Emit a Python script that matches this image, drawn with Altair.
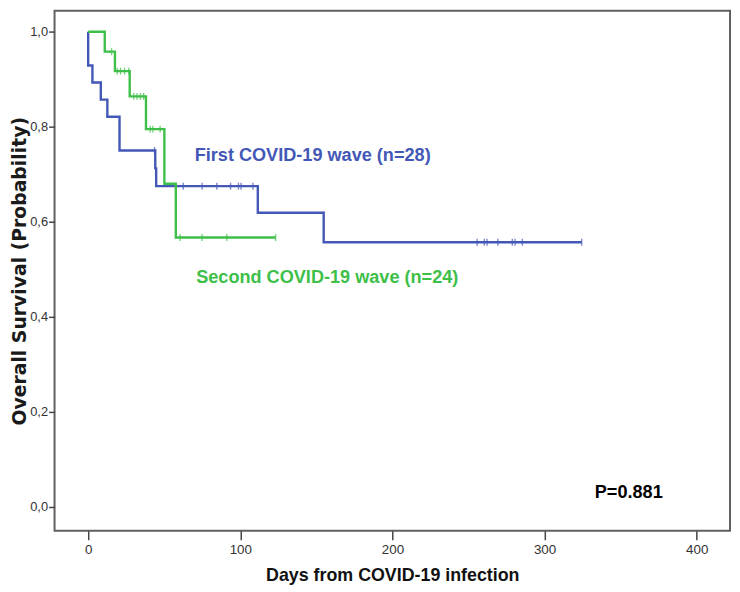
import altair as alt
import pandas as pd

# Kaplan-Meier step points (days, survival probability)
first_times = [0, 0, 2.8, 8.3, 12.6, 20.6, 44.1, 44.7, 111.5, 154.8, 324.4]
first_surv = [1.0, 0.929, 0.893, 0.857, 0.821, 0.75, 0.7125, 0.675, 0.619, 0.557, 0.557]

second_times = [0, 10.9, 17.6, 27.3, 38.0, 50.1, 57.6, 123.2]
second_surv = [1.0, 0.958, 0.917, 0.864, 0.795, 0.68, 0.567, 0.567]

# Censored observations
first_cens_t = [43.6, 62.5, 74.9, 84.6, 93.6, 98.8, 100.5, 108.3,
                255.7, 260.4, 262.2, 269.3, 278.8, 280.6, 285.4, 324.4]
first_cens_s = [0.75, 0.675, 0.675, 0.675, 0.675, 0.675, 0.675, 0.675,
                0.557, 0.557, 0.557, 0.557, 0.557, 0.557, 0.557, 0.557]
second_cens_t = [15.4, 19.1, 21.3, 23.9, 26.7, 29.9, 32.1, 34.3, 36.5,
                 40.8, 42.5, 47.3, 60.4, 74.8, 91.1, 123.2]
second_cens_s = [0.958, 0.917, 0.917, 0.917, 0.917, 0.864, 0.864, 0.864, 0.864,
                 0.795, 0.795, 0.795, 0.567, 0.567, 0.567, 0.567]

labels = ["First COVID-19 wave (n=28)", "Second COVID-19 wave (n=24)", "P=0.881"]
label_x = [70.0, 71.0, 333.0]
label_y = [0.7375, 0.482, 0.03]
label_colors = ["#4357b7", "#3dbf49", "#000000"]

x_ticks = [0, 100, 200, 300, 400]
y_ticks = [0.0, 0.2, 0.4, 0.6, 0.8, 1.0]

BLUE = "#4357b7"
GREEN = "#3dbf49"
FONT = "Liberation Sans"

xdom = [-22.1, 421.9]
ydom = [-0.05, 1.044]

xs = alt.Scale(domain=xdom, nice=False, zero=False)
ys = alt.Scale(domain=ydom, nice=False, zero=False)

x_axis = alt.Axis(values=x_ticks, title="Days from COVID-19 infection", grid=False,
                  domain=False, tickSize=9, tickColor="#444", tickWidth=1.5,
                  labelFont=FONT, labelFontSize=13.5, labelColor="#333", labelPadding=3,
                  titleFont=FONT, titleFontSize=18, titleFontWeight="bold",
                  titleColor="#111", titlePadding=11)
y_axis = alt.Axis(values=y_ticks, title="Overall Survival (Probability)", grid=False,
                  domain=False, tickSize=6, tickColor="#444", tickWidth=1.5,
                  labelFont=FONT, labelFontSize=13, labelColor="#333", labelPadding=1,
                  labelExpr="replace(format(datum.value, '.1f'), '.', ',')",
                  titleFont="DejaVu Sans", titleFontSize=19, titleFontWeight="bold",
                  titleColor="#1a1a1a", titlePadding=0)

first_df = pd.DataFrame({"t": first_times, "s": first_surv})
second_df = pd.DataFrame({"t": second_times, "s": second_surv})
first_c = pd.DataFrame({"t": first_cens_t, "s": first_cens_s})
second_c = pd.DataFrame({"t": second_cens_t, "s": second_cens_s})
lab_df = pd.DataFrame({"label": labels, "x": label_x, "y": label_y, "c": label_colors})

base_enc = dict(
    x=alt.X("t:Q", scale=xs, axis=x_axis),
    y=alt.Y("s:Q", scale=ys, axis=y_axis),
)

line1 = alt.Chart(first_df).mark_line(interpolate="step-after", color=BLUE,
                                      strokeWidth=2.4, clip=True).encode(
    **base_enc, order=alt.Order("idx:Q")
).transform_window(idx="row_number()")
line2 = alt.Chart(second_df).mark_line(interpolate="step-after", color=GREEN,
                                       strokeWidth=2.4, clip=True).encode(
    **base_enc, order=alt.Order("idx:Q")
).transform_window(idx="row_number()")

tick1 = alt.Chart(first_c).mark_tick(orient="vertical", color=BLUE, size=7,
                                     thickness=1.4).encode(
    x=alt.X("t:Q", scale=xs), y=alt.Y("s:Q", scale=ys))
tick2 = alt.Chart(second_c).mark_tick(orient="vertical", color=GREEN, size=7,
                                      thickness=1.4).encode(
    x=alt.X("t:Q", scale=xs), y=alt.Y("s:Q", scale=ys))

texts = alt.Chart(lab_df).mark_text(align="left", baseline="middle", font=FONT,
                                    fontSize=18.3, fontWeight="bold").encode(
    x=alt.X("x:Q", scale=xs),
    y=alt.Y("y:Q", scale=ys),
    text="label:N",
    color=alt.Color("c:N", scale=None),
)

chart = alt.layer(line1, line2, tick1, tick2, texts).properties(
    width=682, height=525,
    autosize=alt.AutoSizeParams(type="none"),
    padding={"left": 47, "top": 0, "right": 2, "bottom": 58},
).configure(background="white").configure_view(stroke="#5f5f5f", strokeWidth=2)

chart.save("out.html", embed_options={"renderer": "svg", "actions": False})
